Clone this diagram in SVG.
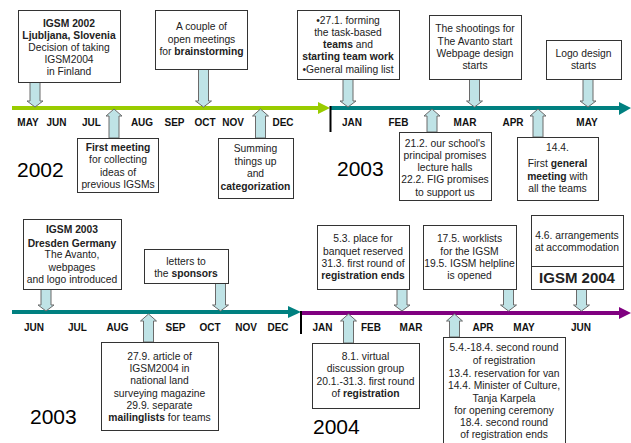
<svg xmlns="http://www.w3.org/2000/svg" width="631" height="443" viewBox="0 0 631 443">
<style>
text{font-family:"Liberation Sans",Arial,sans-serif;font-size:10.3px;fill:#222;text-anchor:middle}
.b{font-weight:bold}
.m{font-weight:bold;font-size:10px;fill:#111}
.y{font-size:21px;text-anchor:start;fill:#000}
.box{fill:#fff;stroke:#333;stroke-width:1}
.ar{fill:#bfe3e6;stroke:#6a6a6a;stroke-width:1}
</style>
<rect width="631" height="443" fill="#fff"/>
<g id="timelines">
<line x1="12" y1="108" x2="320" y2="108" stroke="#99cc00" stroke-width="4"/>
<polygon points="318,102 330,108 318,114" fill="#99cc00"/>
<line x1="330" y1="108" x2="620" y2="108" stroke="#008080" stroke-width="4"/>
<polygon points="619,102 631,108 619,115" fill="#008080"/>
<line x1="330.5" y1="106" x2="330.5" y2="132" stroke="#000" stroke-width="2"/>
<line x1="12" y1="312" x2="290" y2="312" stroke="#008080" stroke-width="4"/>
<polygon points="288,306 301,312 288,318" fill="#008080"/>
<line x1="301" y1="313" x2="620" y2="313" stroke="#800080" stroke-width="4"/>
<polygon points="619,307 631,313 619,319" fill="#800080"/>
<line x1="301" y1="311" x2="301" y2="334" stroke="#000" stroke-width="2"/>
</g>
<g id="months">
<text class="m" x="28" y="126">MAY</text><text class="m" x="56.5" y="126">JUN</text><text class="m" x="91.5" y="126">JUL</text><text class="m" x="142" y="126">AUG</text><text class="m" x="174.5" y="126">SEP</text><text class="m" x="205" y="126">OCT</text><text class="m" x="233" y="126">NOV</text><text class="m" x="283" y="126">DEC</text>
<text class="m" x="352" y="126">JAN</text><text class="m" x="398.5" y="126">FEB</text><text class="m" x="465" y="126">MAR</text><text class="m" x="513" y="126">APR</text><text class="m" x="587" y="126">MAY</text>
<text class="m" x="34" y="331">JUN</text><text class="m" x="77.5" y="331">JUL</text><text class="m" x="117.5" y="331">AUG</text><text class="m" x="175.5" y="331">SEP</text><text class="m" x="210" y="331">OCT</text><text class="m" x="246" y="331">NOV</text><text class="m" x="278" y="331">DEC</text>
<text class="m" x="322.5" y="331">JAN</text><text class="m" x="371" y="331">FEB</text><text class="m" x="411" y="331">MAR</text><text class="m" x="483" y="331">APR</text><text class="m" x="524" y="331">MAY</text><text class="m" x="581" y="331">JUN</text>
</g>
<g id="years">
<text class="y" x="17" y="177">2002</text>
<text class="y" x="337" y="176">2003</text>
<text class="y" x="30" y="424">2003</text>
<text class="y" x="313" y="434">2004</text>
</g>
<g id="connectors">
<path class="ar" d="M30,82H40V101H43L35,107L27,101H30Z"/>
<path class="ar" d="M198.5,69H208.5V101H211.5L203.5,107L195.5,101H198.5Z"/>
<path class="ar" d="M343,79H353V101H356L348,107L340,101H343Z"/>
<path class="ar" d="M469.5,79H479.5V101H482.5L474.5,107L466.5,101H469.5Z"/>
<path class="ar" d="M583,79H593V101H596L588,107L580,101H583Z"/>
<path class="ar" d="M109,138H119V116H122L114,109L106,116H109Z"/>
<path class="ar" d="M255.5,138H265.5V116H268.5L260.5,109L252.5,116H255.5Z"/>
<path class="ar" d="M427,132H437V116H440L432,109L424,116H427Z"/>
<path class="ar" d="M533,137H543V116H546L538,109L530,116H533Z"/>
<path class="ar" d="M41,289H51V305H54L46,311L38,305H41Z"/>
<path class="ar" d="M215.5,283H225.5V305H228.5L220.5,311L212.5,305H215.5Z"/>
<path class="ar" d="M397,289H407V305H410L402,311L394,305H397Z"/>
<path class="ar" d="M503.5,289H513.5V305H516.5L508.5,311L500.5,305H503.5Z"/>
<path class="ar" d="M576.5,289H586.5V305H589.5L581.5,311L573.5,305H576.5Z"/>
<path class="ar" d="M143.5,342H153.5V321H156.5L148.5,314L140.5,321H143.5Z"/>
<path class="ar" d="M343.5,343H353.5V321H356.5L348.5,314L340.5,321H343.5Z"/>
<path class="ar" d="M449.5,337H459.5V321H462.5L454.5,314L446.5,321H449.5Z"/>
</g>
<g id="n-igsm2002">
<rect class="box" x="18.5" y="10.5" width="102" height="72"/>
<text x="69" y="27" class="b">IGSM 2002</text>
<text x="69" y="39" class="b">Ljubljana, Slovenia</text>
<text x="69" y="51">Decision of taking</text>
<text x="69" y="63">IGSM2004</text>
<text x="69" y="75">in Finland</text>
</g>
<g id="n-brainstorming">
<rect class="box" x="155.5" y="10.5" width="92" height="59"/>
<text x="201.5" y="30">A couple of</text>
<text x="201.5" y="42.5">open meetings</text>
<text x="201.5" y="55">for <tspan class="b">brainstorming</tspan></text>
</g>
<g id="n-firstmeeting">
<rect class="box" x="77.5" y="138.5" width="81" height="54"/>
<text x="118" y="151" class="b">First meeting</text>
<text x="118" y="163.3">for collecting</text>
<text x="118" y="175.6">ideas of</text>
<text x="118" y="188">previous IGSMs</text>
</g>
<g id="n-summing">
<rect class="box" x="218.5" y="138.5" width="75" height="60"/>
<text x="255.5" y="152">Summing</text>
<text x="255.5" y="164.5">things up</text>
<text x="255.5" y="177">and</text>
<text x="255.5" y="189.5" class="b">categorization</text>
</g>
<g id="n-teams">
<rect class="box" x="297.5" y="10.5" width="102" height="69"/>
<text x="348" y="23.5">•27.1. forming</text>
<text x="348" y="36">the task-based</text>
<text x="348" y="48"><tspan class="b">teams</tspan> and</text>
<text x="348" y="60" class="b">starting team work</text>
<text x="348" y="72.5">•General mailing list</text>
</g>
<g id="n-shootings">
<rect class="box" x="429.5" y="15.5" width="92" height="64"/>
<text x="475" y="32">The shootings for</text>
<text x="475" y="44.5">The Avanto start</text>
<text x="475" y="57">Webpage design</text>
<text x="475" y="68.5">starts</text>
</g>
<g id="n-logo">
<rect class="box" x="546.5" y="40.5" width="75" height="39"/>
<text x="583.5" y="57">Logo design</text>
<text x="583.5" y="68.5">starts</text>
</g>
<g id="n-school">
<rect class="box" x="399.5" y="132.5" width="92" height="68"/>
<text x="445" y="147">21.2. our school's</text>
<text x="445" y="159">principal promises</text>
<text x="445" y="171">lecture halls</text>
<text x="445" y="183">22.2. FIG promises</text>
<text x="445" y="196">to support us</text>
</g>
<g id="n-general">
<rect class="box" x="517.5" y="137.5" width="81" height="63"/>
<text x="557.5" y="151">14.4.</text>
<text x="557.5" y="167">First <tspan class="b">general</tspan></text>
<text x="557.5" y="180"><tspan class="b">meeting</tspan> with</text>
<text x="557.5" y="191.5">all the teams</text>
</g>
<g id="n-igsm2003">
<rect class="box" x="23.5" y="219.5" width="98" height="70"/>
<text x="72" y="233" class="b">IGSM 2003</text>
<text x="72" y="246.5" class="b">Dresden Germany</text>
<text x="72" y="258">The Avanto,</text>
<text x="72" y="270.5">webpages</text>
<text x="72" y="283">and logo introduced</text>
</g>
<g id="n-sponsors">
<rect class="box" x="144.5" y="249.5" width="84" height="34"/>
<text x="186" y="264.5">letters to</text>
<text x="186" y="276.5">the <tspan class="b">sponsors</tspan></text>
</g>
<g id="n-article">
<rect class="box" x="101.5" y="342.5" width="117" height="88"/>
<text x="159.5" y="359.5">27.9. article of</text>
<text x="159.5" y="371.5">IGSM2004 in</text>
<text x="159.5" y="384">national land</text>
<text x="159.5" y="396.5">surveying magazine</text>
<text x="159.5" y="409">29.9. separate</text>
<text x="159.5" y="421"><tspan class="b">mailinglists</tspan> for teams</text>
</g>
<g id="n-banquet">
<rect class="box" x="317.5" y="225.5" width="92" height="64"/>
<text x="363" y="242">5.3. place for</text>
<text x="363" y="254.5">banquet reserved</text>
<text x="363" y="266.5">31.3. first round of</text>
<text x="363" y="279" class="b">registration ends</text>
</g>
<g id="n-worklists">
<rect class="box" x="423.5" y="225.5" width="93" height="64"/>
<text x="469.5" y="242">17.5. worklists</text>
<text x="469.5" y="254.5">for the IGSM</text>
<text x="469.5" y="266.5">19.5. IGSM helpline</text>
<text x="469.5" y="279">is opened</text>
</g>
<g id="n-igsm2004">
<rect class="box" x="531.5" y="215.5" width="92" height="74"/>
<line x1="531.5" y1="266.5" x2="623.5" y2="266.5" stroke="#333" stroke-width="1"/>
<text x="577" y="239">4.6. arrangements</text>
<text x="577" y="250.5">at accommodation</text>
<text x="577" y="282.5" class="b" style="font-size:15px">IGSM 2004</text>
</g>
<g id="n-virtual">
<rect class="box" x="312.5" y="343.5" width="107" height="65"/>
<text x="365.5" y="359.5">8.1. virtual</text>
<text x="365.5" y="372">discussion group</text>
<text x="365.5" y="384.5">20.1.-31.3. first round</text>
<text x="365.5" y="396.5">of <tspan class="b">registration</tspan></text>
</g>
<g id="n-second">
<rect class="box" x="443.5" y="337.5" width="122" height="110"/>
<text x="504" y="350.5">5.4.-18.4. second round</text>
<text x="504" y="364">of registration</text>
<text x="504" y="376.5">13.4. reservation for van</text>
<text x="504" y="389">14.4. Minister of Culture,</text>
<text x="504" y="401.5">Tanja Karpela</text>
<text x="504" y="414">for opening ceremony</text>
<text x="504" y="426">18.4. second round</text>
<text x="504" y="438">of registration ends</text>
</g>
</svg>
